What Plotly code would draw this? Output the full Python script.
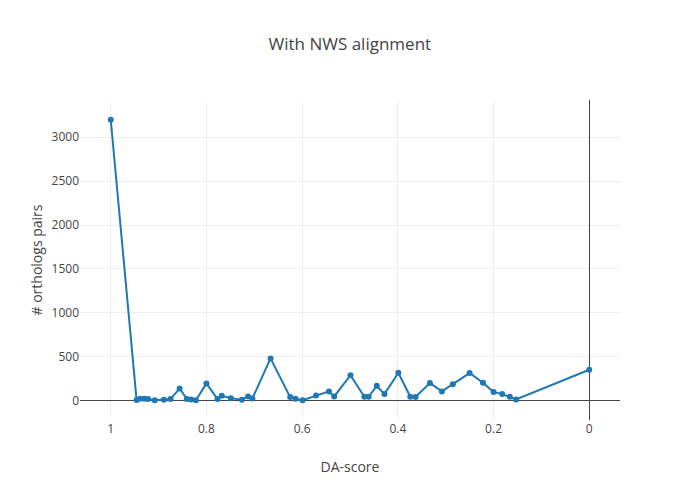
import plotly.graph_objects as go

# DA-score bins and ortholog pair counts
da_score = [1.0, 0.946, 0.939, 0.930, 0.922, 0.908, 0.889, 0.875, 0.856, 0.841,
            0.832, 0.822, 0.800, 0.777, 0.768, 0.749, 0.726, 0.713, 0.704, 0.666,
            0.625, 0.614, 0.599, 0.571, 0.544, 0.533, 0.499, 0.470, 0.461, 0.444,
            0.428, 0.399, 0.374, 0.363, 0.333, 0.308, 0.285, 0.250, 0.222, 0.200,
            0.182, 0.166, 0.153, 0.0]
pair_counts = [3200, 5, 19, 19, 15, 3, 8, 15, 137, 15,
               11, 2, 194, 15, 53, 26, 8, 46, 23, 479,
               38, 19, 2, 57, 103, 46, 287, 42, 42, 167,
               72, 316, 42, 38, 198, 103, 183, 312, 202, 95,
               72, 42, 11, 350]

fig = go.Figure()
fig.add_trace(
    go.Scatter(
        x=da_score,
        y=pair_counts,
        mode="lines+markers",
        line=dict(color="#1f77b4", width=2),
        marker=dict(color="#1f77b4", size=6),
    )
)

# the page body adds an 8px offset, so the figure is shrunk to fit the window
fig.update_layout(
    template="none",
    width=692,
    height=492,
    margin=dict(l=72, r=80, t=92, b=80),
    font=dict(family="Open Sans, sans-serif", color="#444", size=12),
    title=dict(text="With NWS alignment", x=0.494, xanchor="center",
               y=0.927, yanchor="middle", font=dict(size=17)),
    showlegend=False,
    plot_bgcolor="white",
    paper_bgcolor="white",
    xaxis=dict(
        title=dict(text="DA-score", font=dict(size=14)),
        autorange="reversed",
        tickvals=[1, 0.8, 0.6, 0.4, 0.2, 0],
        ticktext=["1", "0.8", "0.6", "0.4", "0.2", "0"],
        gridcolor="#eee",
        zeroline=True,
        zerolinecolor="#444",
        zerolinewidth=1,
        ticks="",
        showline=False,
    ),
    yaxis=dict(
        title=dict(text="# orthologs pairs", font=dict(size=14)),
        tickvals=[0, 500, 1000, 1500, 2000, 2500, 3000],
        gridcolor="#eee",
        zeroline=True,
        zerolinecolor="#444",
        zerolinewidth=1,
        ticks="",
        showline=False,
    ),
)

fig.write_html("out.html")
